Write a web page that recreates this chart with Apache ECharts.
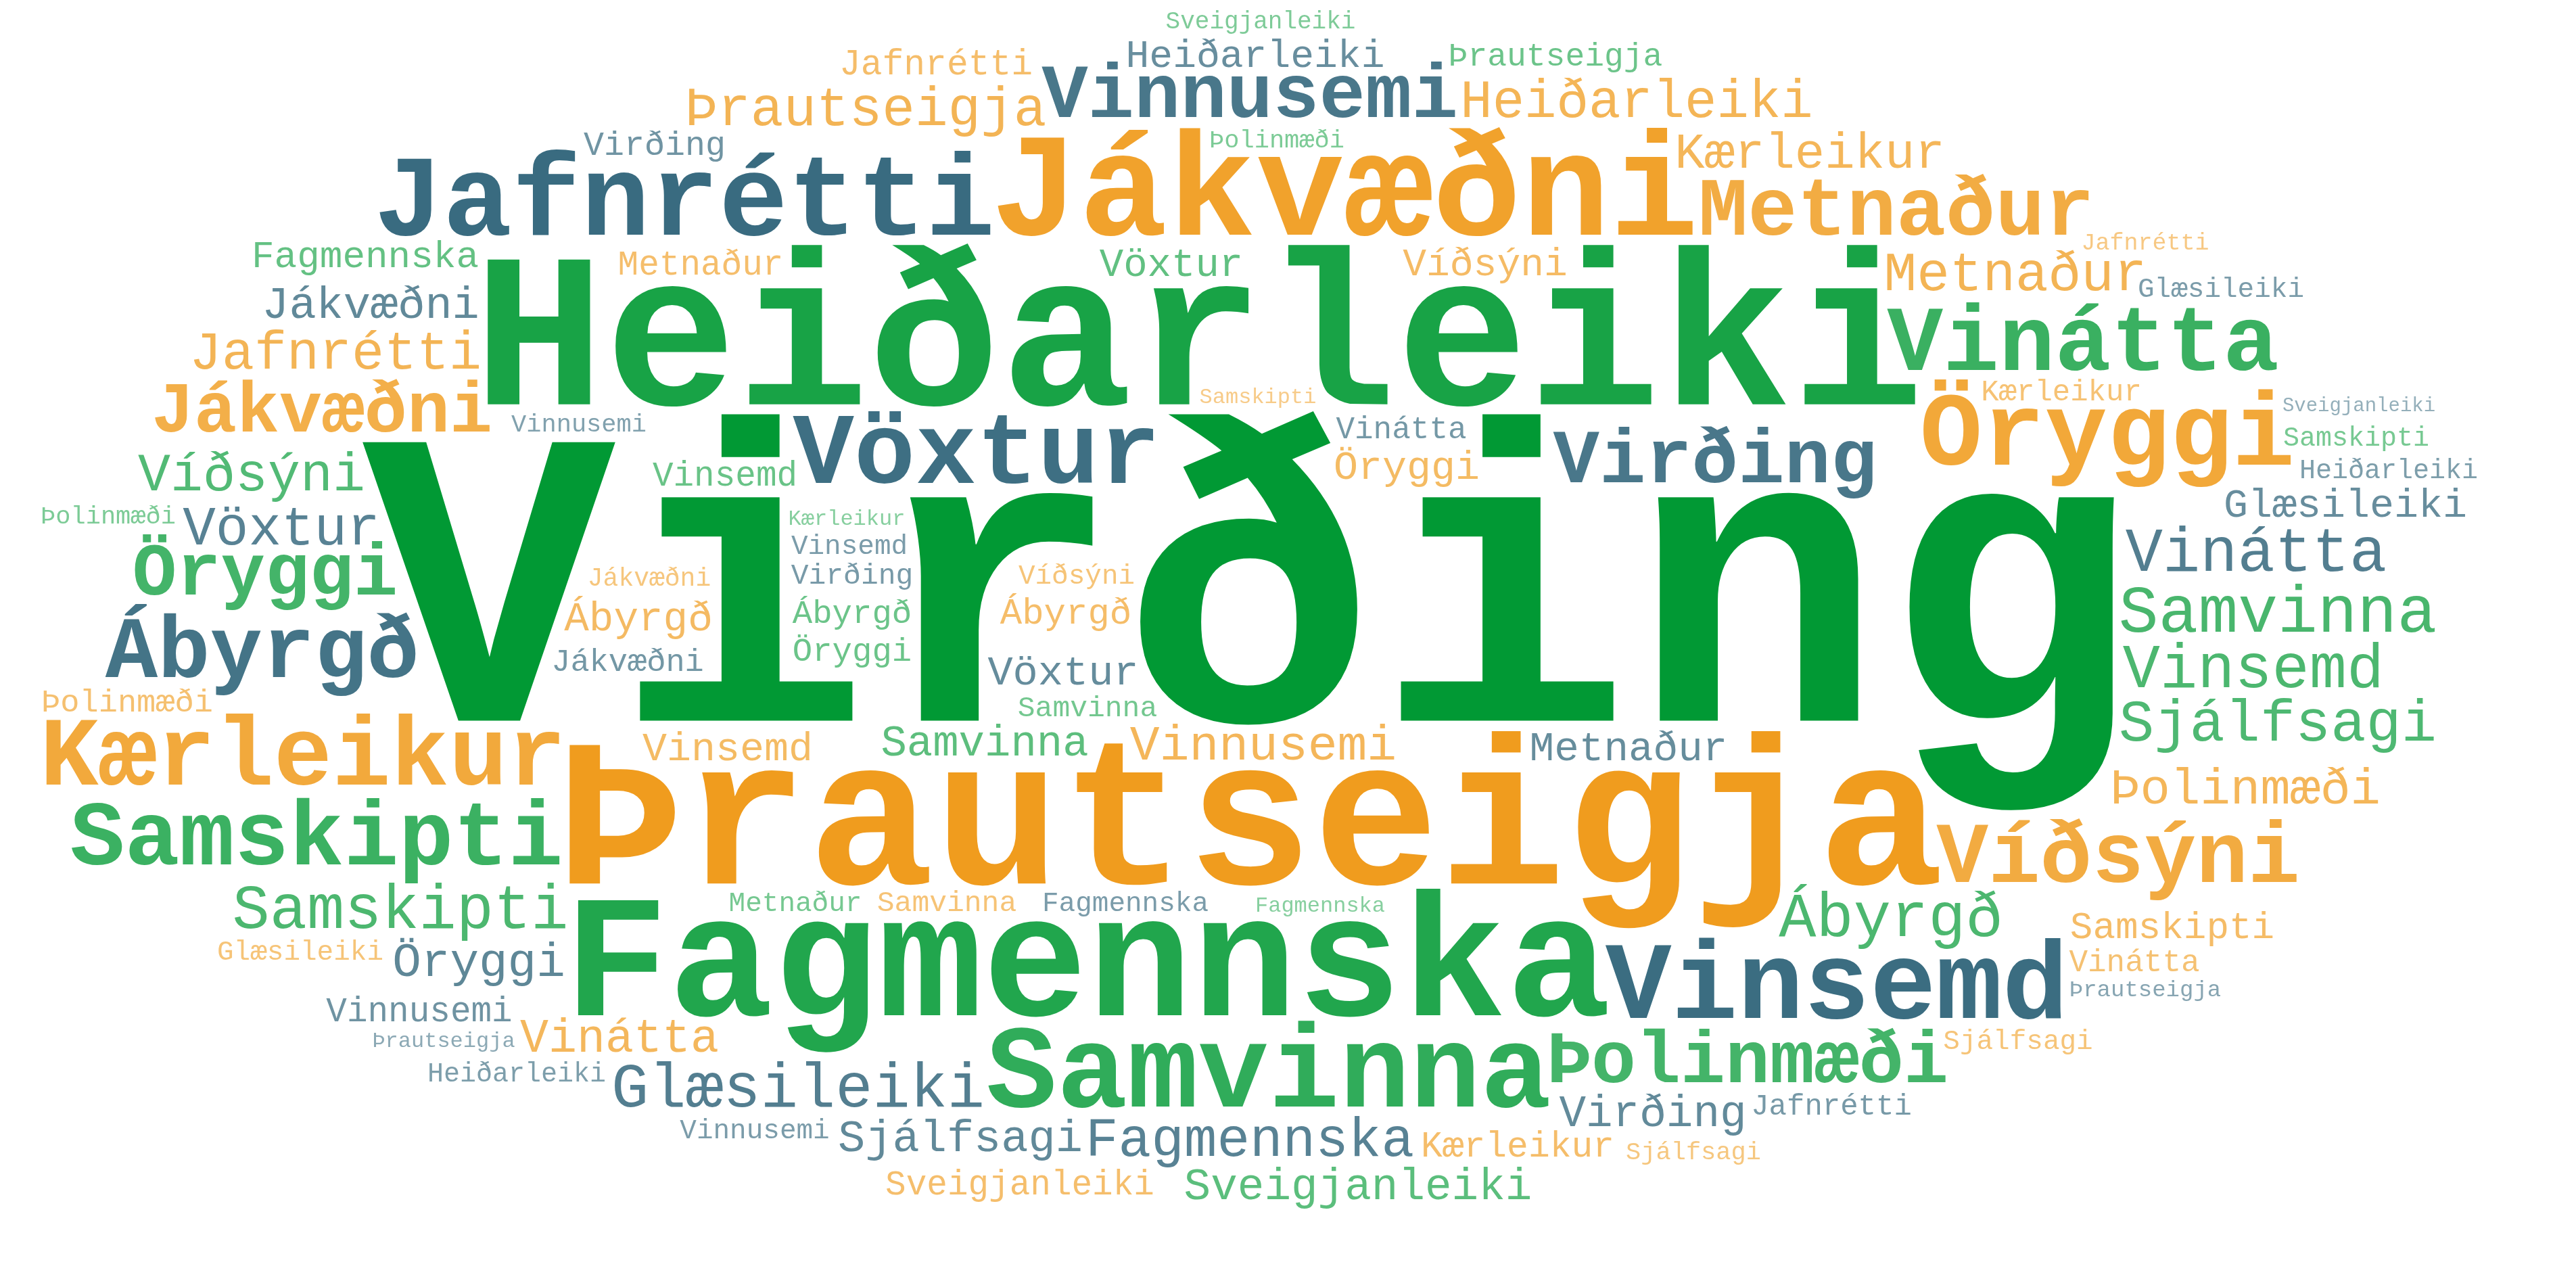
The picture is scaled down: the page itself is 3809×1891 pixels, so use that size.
<!DOCTYPE html>
<html>
<head>
<meta charset="utf-8">
<script src="https://cdn.jsdelivr.net/npm/echarts@6/dist/echarts.min.js"></script>
<style>
html,body{margin:0;padding:0;background:#ffffff;overflow:hidden;}
#chart{width:3809px;height:1891px;}
</style>
</head>
<body>
<div id="chart"></div>
<script>
// ---- data: words in placement (rank) order, weights (font px) and colour group ----
const words = [
"Virðing","Þrautseigja","Heiðarleiki","Fagmennska","Jákvæðni","Samvinna","Jafnrétti","Vinsemd","Öryggi","Vöxtur",
"Kærleikur","Vinátta","Samskipti","Ábyrgð","Víðsýni","Metnaður","Virðing","Vinnusemi","Þolinmæði","Öryggi",
"Jákvæðni","Samvinna","Vinsemd","Samskipti","Ábyrgð","Vinátta","Glæsileiki","Sjálfsagi","Vöxtur","Metnaður",
"Fagmennska","Þrautseigja","Jafnrétti","Víðsýni","Heiðarleiki","Þolinmæði","Kærleikur","Vinnusemi","Öryggi","Vinátta",
"Jákvæðni","Sjálfsagi","Virðing","Sveigjanleiki","Samvinna","Vöxtur","Ábyrgð","Metnaður","Vinsemd","Öryggi",
"Glæsileiki","Vöxtur","Víðsýni","Heiðarleiki","Samskipti","Fagmennska","Ábyrgð","Kærleikur","Jafnrétti","Vinnusemi",
"Metnaður","Sveigjanleiki","Vinsemd","Virðing","Ábyrgð","Öryggi","Þrautseigja","Jákvæðni","Þolinmæði","Vinátta",
"Vinátta","Kærleikur","Jafnrétti","Samvinna","Samvinna","Virðing","Metnaður","Fagmennska","Vinnusemi","Sjálfsagi",
"Víðsýni","Glæsileiki","Glæsileiki","Vinsemd","Heiðarleiki","Heiðarleiki","Samskipti","Jákvæðni","Sjálfsagi","Þolinmæði",
"Þolinmæði","Vinnusemi","Sveigjanleiki","Jafnrétti","Þrautseigja","Samskipti","Þrautseigja","Kærleikur","Fagmennska","Sveigjanleiki"
];
const weights = [
625,311,325,258,218,174,170,163,154,151,
144,138,135,129,128,122,114,114,110,109,
105,98,92,92,92,92,92,87,81,81,
81,81,80,80,79,74,74,73,71,70,
67,67,66,66,64,62,61,61,60,60,
60,59,58,58,56,56,54,53,53,51,
51,51,51,50,49,49,48,47,47,46,
46,44,44,43,43,43,41,41,41,41,
41,41,41,41,40,40,40,38,37,37,
37,37,36,35,34,32,32,32,32,29
];
// 0 = green, 1 = orange, 2 = teal
const groups = [
0,1,0,0,1,0,2,2,1,2,
1,0,0,2,1,1,2,2,0,0,
1,0,0,0,0,2,2,0,2,1,
2,1,1,0,1,1,1,1,2,1,
2,2,2,0,0,2,1,2,1,1,
2,0,1,2,1,0,1,1,1,2,
1,1,0,2,0,0,0,2,1,2,
1,1,2,0,1,2,0,2,2,1,
1,1,2,2,2,2,0,1,1,0,
0,2,0,1,2,1,2,0,0,2
];
const groupColors = [[0,153,51],[238,145,5],[10,72,97]];

// ---- styling helpers ----
const W = 3809, H = 1891;
const FAMILY = '"Liberation Mono","DejaVu Sans Mono",monospace';
function fontOf(F){ return (F >= 100 ? 'bold ' : '') + F + 'px ' + FAMILY; }
function opacityOf(F){
  const t = Math.max(0, Math.log(F / 26) / Math.log(638 / 26));
  return Math.min(1, 0.38 + 0.62 * Math.pow(t, 0.7));
}
function colorOf(g, F){
  const c = groupColors[g], a = opacityOf(F);
  const m = c.map(v => Math.round(v * a + 255 * (1 - a)));
  return 'rgb(' + m.join(',') + ')';
}

// ---- word cloud layout (pixel masks, candidates ordered by elliptical distance) ----
const G = 4;
const gw = Math.ceil(W / G), gh = Math.ceil(H / G);
const occ = new Uint8Array(gw * gh);
const SHAPE_P = 2.4;
for (let y = 0; y < gh; y++) {
  for (let x = 0; x < gw; x++) {
    const nx = ((x + 0.5) * G - W / 2) / (W / 2);
    const ny = ((y + 0.5) * G - H / 2) / (H / 2);
    if (Math.pow(Math.abs(nx), SHAPE_P) + Math.pow(Math.abs(ny), SHAPE_P) > 1) occ[y * gw + x] = 1;
  }
}
const mc = document.createElement('canvas');
const mctx = mc.getContext('2d', {willReadFrequently: true});
function maskOf(text, F){
  const R = Math.max(3, Math.round(F * 0.03 / G));   // spacing kept around each word, in cells
  mctx.font = fontOf(F);
  const tw = mctx.measureText(text).width;
  const kx = Math.ceil((tw / 2 + F * 0.05) / G) + R + 1;
  const ky = Math.ceil((F * 0.78) / G) + R + 1;
  const cw = 2 * kx * G, ch = 2 * ky * G;
  mc.width = cw; mc.height = ch;
  mctx.clearRect(0, 0, cw, ch);
  mctx.font = fontOf(F);
  mctx.textAlign = 'center';
  mctx.textBaseline = 'middle';
  mctx.fillStyle = '#000';
  mctx.fillText(text, kx * G, ky * G);
  const d = mctx.getImageData(0, 0, cw, ch).data;
  const cols = 2 * kx, rows = 2 * ky;
  const solid = new Uint8Array(cols * rows);
  for (let py = 0; py < ch; py++) {
    const r = (py / G) | 0;
    for (let px = 0; px < cw; px++) {
      if (d[(py * cw + px) * 4 + 3] > 40) solid[r * cols + ((px / G) | 0)] = 1;
    }
  }
  const hd = new Uint8Array(cols * rows), dil = new Uint8Array(cols * rows);
  for (let j = 0; j < rows; j++) for (let i = 0; i < cols; i++) {
    if (!solid[j * cols + i]) continue;
    for (let di = -R; di <= R; di++) { const ii = i + di; if (ii >= 0 && ii < cols) hd[j * cols + ii] = 1; }
  }
  for (let j = 0; j < rows; j++) for (let i = 0; i < cols; i++) {
    if (!hd[j * cols + i]) continue;
    for (let dj = -R; dj <= R; dj++) { const jj = j + dj; if (jj >= 0 && jj < rows) dil[jj * cols + i] = 1; }
  }
  const cells = [], test = [];
  for (let j = 0; j < rows; j++) {
    for (let i = 0; i < cols; i++) {
      if (solid[j * cols + i]) cells.push([i - kx, j - ky]);
      if (dil[j * cols + i]) test.push([i - kx, j - ky]);
    }
  }
  const h = p => ((p[0] * 7919 + p[1] * 104729) % 997 + 997) % 997;
  test.sort((a, b) => h(a) - h(b));
  const flat = c => { const o = new Int32Array(c.length * 2); c.forEach((p, k) => { o[2 * k] = p[0]; o[2 * k + 1] = p[1]; }); return o; };
  return {cells: flat(cells), test: flat(test)};
}
function fits(t, X, Y){
  for (let k = 0; k < t.length; k += 2) {
    const x = X + t[k], y = Y + t[k + 1];
    if (x < 0 || y < 0 || x >= gw || y >= gh) continue;
    if (occ[y * gw + x]) return false;
  }
  return true;
}
function inside(t, X, Y){
  for (let k = 0; k < t.length; k += 2) {
    const x = X + t[k], y = Y + t[k + 1];
    if (x < 0 || y < 0 || x >= gw || y >= gh) return false;
  }
  return true;
}
// candidate centres, ordered by elliptical distance from the layout centre (ties: clockwise from top)
const cx = Math.round(gw * 0.485), cy = Math.round(gh * 0.48);
const ey = 0.5;
const N = gw * gh;
const keys = new Float64Array(N);
const cand = new Uint32Array(N);
for (let y = 0; y < gh; y++) for (let x = 0; x < gw; x++) {
  const k = y * gw + x;
  const dx = x - cx, dy = (y - cy) / ey;
  let ang = Math.atan2(dx, -dy); if (ang < 0) ang += 2 * Math.PI;
  keys[k] = dx * dx + dy * dy + ang * 1e-3;
  cand[k] = k;
}
cand.sort((a, b) => keys[a] - keys[b]);
function findSpot(m){
  for (let n = 0; n < N; n++) {
    const k = cand[n];
    const X = k % gw, Y = (k - X) / gw;
    if (fits(m.test, X, Y) && inside(m.cells, X, Y)) return [X, Y];
  }
  return null;
}
const placed = [];
for (let i = 0; i < words.length; i++) {
  let F = weights[i];
  for (let attempt = 0; attempt < 4; attempt++) {
    const m = maskOf(words[i], F);
    const p = findSpot(m);
    if (p) {
      for (let k = 0; k < m.cells.length; k += 2) occ[(p[1] + m.cells[k + 1]) * gw + p[0] + m.cells[k]] = 1;
      placed.push([p[0] * G, p[1] * G, i, F]);
      break;
    }
    F = Math.round(F * 0.9);
  }
}

// ---- chart ----
const chart = echarts.init(document.getElementById('chart'), null, {renderer: 'canvas'});
chart.setOption({
  animation: false,
  backgroundColor: '#ffffff',
  grid: {left: 0, right: 0, top: 0, bottom: 0},
  xAxis: {type: 'value', min: 0, max: W, show: false},
  yAxis: {type: 'value', min: 0, max: H, inverse: true, show: false},
  series: [{
    type: 'custom',
    coordinateSystem: 'cartesian2d',
    data: placed,
    silent: true,
    renderItem: function (params, api) {
      const idx = api.value(2), F = api.value(3);
      const pt = api.coord([api.value(0), api.value(1)]);
      return {
        type: 'text',
        x: pt[0], y: pt[1],
        style: {
          text: words[idx],
          font: fontOf(F),
          fill: colorOf(groups[idx], F),
          align: 'center',
          verticalAlign: 'middle'
        }
      };
    }
  }]
});
</script>
</body>
</html>
